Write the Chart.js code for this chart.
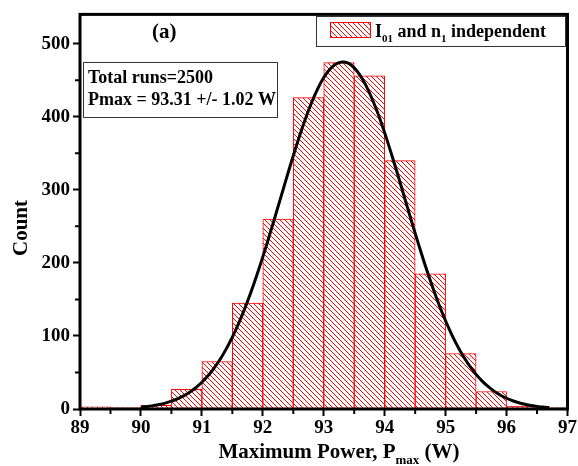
<!DOCTYPE html>
<html><head><meta charset="utf-8">
<script src="https://cdn.jsdelivr.net/npm/chart.js@4.4.1/dist/chart.umd.min.js"></script>
<style>html,body{margin:0;padding:0;background:#fff}#wrap{width:578px;height:466px}</style>
</head><body><div id="wrap"><canvas id="c" width="578" height="466"></canvas></div>
<script>
// ---- data ----
const binCenters = [89.25,89.75,90.25,90.75,91.25,91.75,92.25,92.75,93.25,93.75,94.25,94.75,95.25,95.75,96.25,96.75];
const binCounts  = [3,2,5,27,65,145,260,426,474,456,340,185,76,24,4,2];
const fitX = [90.0,90.1,90.2,90.3,90.4,90.5,90.6,90.7,90.8,90.9,91.0,91.1,91.2,91.3,91.4,91.5,91.6,91.7,91.8,91.9,
  92.0,92.1,92.2,92.3,92.4,92.5,92.6,92.7,92.8,92.9,93.0,93.1,93.2,93.3,93.4,93.5,93.6,93.7,93.8,93.9,
  94.0,94.1,94.2,94.3,94.4,94.5,94.6,94.7,94.8,94.9,95.0,95.1,95.2,95.3,95.4,95.5,95.6,95.7,95.8,95.9,
  96.0,96.1,96.2,96.3,96.4,96.5,96.6,96.7];
const fitY = [2.5,3.4,4.6,6.1,8.1,10.7,13.9,18.0,23.0,29.1,36.6,45.4,55.9,68.1,82.3,98.4,116.6,136.7,158.8,182.7,
  208.2,235.0,262.8,290.9,319.1,346.6,372.8,397.2,419.2,438.1,453.6,465.0,472.2,475.0,473.2,466.8,456.2,441.5,423.2,401.9,
  377.9,351.9,324.6,296.6,268.4,240.5,213.5,187.7,163.4,140.9,120.4,101.9,85.4,70.8,58.2,47.4,38.2,30.5,24.1,18.9,
  14.7,11.3,8.6,6.5,4.8,3.6,2.6,1.9];
const xTickLabels = ['89','90','91','92','93','94','95','96','97'];
const yTickLabels = ['0','100','200','300','400','500'];
const legendText = ['I', '01', ' and n', '1', ' independent'];
const statLines = ['Total runs=2500', 'Pmax = 93.31 +/- 1.02 W'];
const panelLabel = '(a)';

const SERIF = '"Liberation Serif","Times New Roman",serif';

function hatch(){
  const s = 5, c = document.createElement('canvas'); c.width = s; c.height = s;
  const g = c.getContext('2d');
  g.fillStyle = '#fff'; g.fillRect(0,0,s,s);
  g.strokeStyle = '#ff0000'; g.lineWidth = 1;
  g.beginPath();
  g.moveTo(-1,-1); g.lineTo(s+1,s+1);
  g.moveTo(-1,s-1); g.lineTo(1,s+1);
  g.moveTo(s-1,-1); g.lineTo(s+1,1);
  g.stroke();
  return g.createPattern(c,'repeat');
}
const pat = hatch();

function drawSubText(ctx, parts, x, y, big, small, subDy){
  let cx = x;
  parts.forEach((t,i)=>{
    const sub = i % 2 === 1;
    ctx.font = 'bold ' + (sub ? small : big) + 'px ' + SERIF;
    ctx.fillText(t, cx, sub ? y + subDy : y);
    cx += ctx.measureText(t).width;
  });
  return cx;
}
function measureSub(ctx, parts, big, small){
  let w = 0;
  parts.forEach((t,i)=>{ ctx.font = 'bold ' + (i%2 ? small : big) + 'px ' + SERIF; w += ctx.measureText(t).width; });
  return w;
}

const decor = {
  id: 'decor',
  afterDatasetsDraw(chart){
    const {ctx, chartArea:a, scales:{x,y}} = chart;
    ctx.save();
    // frame
    ctx.strokeStyle = '#000'; ctx.lineWidth = 3;
    ctx.strokeRect(a.left, a.top, a.right - a.left, a.bottom - a.top);
    // minor ticks
    ctx.lineWidth = 2;
    ctx.beginPath();
    for (let v = 89.5; v < 97; v += 1){ const px = x.getPixelForValue(v); ctx.moveTo(px, a.bottom); ctx.lineTo(px, a.bottom + 5); }
    for (let v = 50; v < 540; v += 100){ const py = y.getPixelForValue(v); ctx.moveTo(a.left, py); ctx.lineTo(a.left - 5, py); }
    ctx.stroke();
    // panel label
    ctx.fillStyle = '#000'; ctx.textBaseline = 'alphabetic'; ctx.textAlign = 'left';
    ctx.font = 'bold 21px ' + SERIF;
    ctx.fillText(panelLabel, 152, 38);
    // stats box
    ctx.fillStyle = '#fff'; ctx.fillRect(83, 62, 194, 55);
    ctx.strokeStyle = '#333'; ctx.lineWidth = 1;
    ctx.strokeRect(83.5, 62.5, 194, 55);
    ctx.fillStyle = '#000'; ctx.font = 'bold 18px ' + SERIF;
    ctx.fillText(statLines[0], 88, 83);
    ctx.fillText(statLines[1], 88, 105);
    // legend box
    ctx.fillStyle = '#fff'; ctx.fillRect(316, 16, 249, 30);
    ctx.strokeStyle = '#333'; ctx.strokeRect(316.5, 16.5, 249, 30);
    ctx.fillStyle = pat; ctx.fillRect(330, 22, 40, 15);
    ctx.strokeStyle = '#ff0000'; ctx.strokeRect(330.5, 22.5, 40, 15);
    ctx.fillStyle = '#000';
    drawSubText(ctx, legendText, 375, 37, 18, 11, 5);
    // axis titles
    ctx.save();
    ctx.translate(27, 228); ctx.rotate(-Math.PI/2);
    ctx.font = 'bold 21px ' + SERIF; ctx.textAlign = 'center';
    ctx.fillText('Count', 0, 0);
    ctx.restore();
    const tParts = ['Maximum Power, P', 'max', ' (W)'];
    const w = measureSub(ctx, tParts, 21, 13);
    drawSubText(ctx, tParts, 339 - w/2, 458, 21, 13, 6);
    ctx.restore();
  }
};

new Chart(document.getElementById('c'), {
  type: 'bar',
  data: {
    datasets: [
      { type: 'line', label: 'fit', data: fitX.map((v,i)=>({x:v, y:fitY[i]})),
        borderColor: '#000', borderWidth: 3, pointRadius: 0, tension: 0.4, fill: false, order: 1 },
      { type: 'bar', label: 'I01 and n1 independent', data: binCenters.map((v,i)=>({x:v, y:binCounts[i]})),
        backgroundColor: pat, borderColor: '#ff0000', borderWidth: 1, borderSkipped: false,
        barPercentage: 1, categoryPercentage: 1, order: 2 }
    ]
  },
  options: {
    responsive: false, animation: false,
    layout: { padding: { left: 0, top: 13, right: 8, bottom: 0 } },
    plugins: { legend: { display: false }, tooltip: { enabled: false } },
    scales: {
      x: {
        type: 'linear', min: 89, max: 97, offset: false,
        grid: { display: true, drawOnChartArea: false, offset: false, tickLength: 7, tickWidth: 2, tickColor: '#000' },
        border: { display: false },
        afterFit: s => { s.height = 57; },
        afterBuildTicks: s => { s.ticks = xTickLabels.map(t => ({ value: Number(t) })); },
        ticks: { autoSkip: false, maxRotation: 0, padding: 1, color: '#000',
          font: { family: SERIF, size: 19, weight: 'bold' },
          callback: (v) => xTickLabels[xTickLabels.indexOf(String(v))] ?? '' }
      },
      y: {
        type: 'linear', min: 0, max: 540,
        grid: { display: true, drawOnChartArea: false, tickLength: 7, tickWidth: 2, tickColor: '#000' },
        border: { display: false },
        afterFit: s => { s.width = 80; },
        afterBuildTicks: s => { s.ticks = yTickLabels.map(t => ({ value: Number(t) })); },
        ticks: { padding: 3, color: '#000', font: { family: SERIF, size: 19, weight: 'bold' },
          callback: (v) => yTickLabels[yTickLabels.indexOf(String(v))] ?? '' }
      }
    }
  },
  plugins: [decor]
});
</script></body></html>
